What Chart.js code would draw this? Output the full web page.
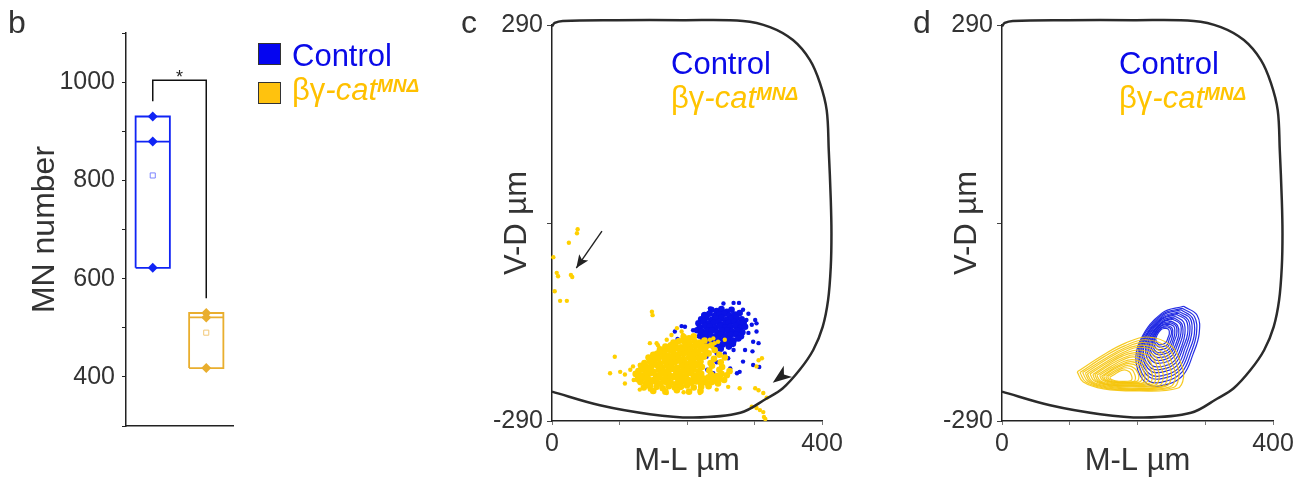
<!DOCTYPE html>
<html>
<head>
<meta charset="utf-8">
<script src="https://cdn.jsdelivr.net/npm/chart.js@4.4.1/dist/chart.umd.min.js"></script>
<style>
  body { margin: 0; width: 1299px; height: 481px; background: #fff; position: relative; overflow: hidden;
         font-family: "Liberation Sans", Arial, sans-serif; }
  canvas { position: absolute; top: 0; }
  .t { position: absolute; white-space: nowrap; line-height: 1; }
  .sw { position: absolute; width: 23px; height: 22px; box-sizing: border-box; border: 1.5px solid #333; }
  .sup { font-size: 19px; font-weight: bold; font-style: italic; vertical-align: 8px; line-height: 0; }
  .blue { color: #0a0ae8; }
  .gold { color: #ffc400; }
</style>
</head>
<body>
<canvas id="chartB" width="450" height="481" style="left:0"></canvas>
<canvas id="chartC" width="450" height="481" style="left:440px"></canvas>
<canvas id="chartD" width="409" height="481" style="left:890px"></canvas>

<!-- panel letters -->
<div class="t" style="left:8px;top:6px;font-size:32px;color:#333">b</div>
<div class="t" style="left:461px;top:6px;font-size:32px;color:#333">c</div>
<div class="t" style="left:913px;top:6px;font-size:32px;color:#333">d</div>

<!-- legend, panel b -->
<div class="sw" style="left:258px;top:43px;background:#0505f0"></div>
<div class="sw" style="left:258px;top:82px;background:#ffc20e"></div>
<div class="t blue" style="left:292px;top:40px;font-size:31px">Control</div>
<div class="t" style="left:292px;top:74px;font-size:31px;color:#ffc000">βγ<i>-cat</i><span class="sup">MNΔ</span></div>
<div class="t" style="left:176px;top:68px;font-size:18px;color:#222">*</div>

<!-- legend, panels c and d -->
<div class="t blue" style="left:671px;top:48px;font-size:31px">Control</div>
<div class="t gold" style="left:671px;top:82px;font-size:31px">βγ<i>-cat</i><span class="sup">MNΔ</span></div>
<div class="t blue" style="left:1119px;top:48px;font-size:31px">Control</div>
<div class="t gold" style="left:1119px;top:82px;font-size:31px">βγ<i>-cat</i><span class="sup">MNΔ</span></div>

<script>
// ---- MN counts per animal (panel b) ----
const groups = ['Control', 'βγ-cat MNΔ'];
const mnPoints = [[930, 879, 622], [530, 521, 418]];
const boxLow = [622, 418];
const boxHigh = [930, 530];
const boxMedian = [879, 521];
const boxMean = [810, 490];
const mnTicks = [400, 600, 800, 1000];

// significance bracket between the two groups
const bracketFeet = [961, 560];
const bracketTop = 1004;

// ---- MN cell positions in the hemicord (panel c), [M-L, V-D] in µm ----
// dense centre of each pool
const coreControl = [
  [236,-127],[244,-129],[251,-126],[259,-130],[266,-127],
  [226,-135],[233,-133],[241,-136],[248,-134],[256,-133],[263,-136],[271,-134],[278,-132],
  [221,-141],[228,-139],[236,-142],[243,-140],[251,-139],[258,-142],[266,-140],[273,-139],[281,-141],
  [217,-147],[225,-145],[232,-148],[240,-146],[247,-145],[255,-148],[262,-146],[270,-145],[277,-147],[284,-146],
  [219,-153],[227,-151],[234,-152],[242,-154],[249,-151],[257,-153],[264,-152],[272,-151],[279,-154],[286,-152],
  [215,-157],[222,-159],[230,-158],[237,-157],[245,-160],[252,-158],[260,-157],[267,-159],[275,-158],[282,-160],
  [220,-165],[228,-163],[235,-164],[243,-166],[250,-163],[258,-165],[265,-164],[273,-163],[280,-166],
  [224,-169],[231,-171],[239,-170],[246,-169],[254,-171],[261,-170],[269,-172],[276,-169],
  [230,-177],[238,-175],[245,-176],[253,-178],[260,-175],[268,-177],
  [241,-182],[250,-184],[262,-181]
];
// scattered cells around it
const spreadControl = [
  [254,-118],[269,-117],[277,-117],[291,-133],[301,-142],[303,-147],[296,-149],[303,-159],
  [298,-174],[306,-176],[297,-188],[286,-186],[283,-203],[298,-208],[307,-211],[274,-220],
  [278,-218],[234,-219],[230,-215],[244,-204],[261,-198],[264,-213],[182,-159],[192,-151],
  [197,-152],[186,-170],[199,-171],[209,-157],[219,-152],[217,-166],[224,-183],[229,-196],
  [219,-203],[244,-191],[239,-220],[204,-210],[249,-183],[269,-186],[256,-191],[266,-176],
  [234,-125],[224,-135],[283,-127],[288,-142],[291,-161]
];

const coreCat = [
  [195,-167],[203,-169],[210,-166],
  [180,-175],[188,-173],[196,-174],[203,-176],[211,-173],[219,-175],[226,-172],
  [168,-181],[176,-179],[183,-180],[191,-182],[198,-179],[206,-181],[213,-180],[221,-178],[228,-181],[236,-179],
  [160,-185],[167,-187],[175,-186],[182,-184],[190,-187],[197,-185],[205,-186],[212,-188],[220,-185],[227,-187],[241,-186],
  [150,-193],[157,-191],[165,-192],[172,-194],[180,-191],[187,-193],[195,-192],[202,-190],[210,-193],[217,-192],[224,-194],[232,-191],[248,-193],
  [143,-197],[150,-199],[158,-198],[165,-196],[173,-199],[180,-197],[188,-198],[195,-200],[203,-197],[210,-199],[218,-198],[225,-196],[240,-199],[256,-197],
  [137,-205],[145,-203],[152,-204],[160,-206],[167,-203],[175,-205],[182,-204],[190,-202],[197,-205],[205,-204],[212,-206],[220,-203],[235,-205],[250,-204],
  [132,-209],[140,-211],[147,-210],[155,-208],[162,-211],[170,-209],[177,-210],[185,-212],[192,-209],[200,-211],[207,-210],[215,-208],[222,-211],[237,-209],[252,-211],
  [128,-217],[135,-215],[143,-216],[150,-218],[158,-215],[165,-217],[173,-216],[180,-214],[188,-217],[195,-216],[203,-218],[210,-215],[218,-217],[233,-216],[248,-215],[263,-217],
  [124,-221],[131,-223],[139,-222],[146,-220],[154,-223],[161,-221],[169,-222],[176,-224],[184,-221],[191,-223],[199,-222],[206,-220],[214,-223],[221,-221],[236,-222],[244,-224],[251,-221],[259,-223],
  [127,-229],[135,-227],[142,-228],[150,-230],[157,-227],[165,-229],[172,-228],[180,-226],[187,-229],[195,-228],[202,-230],[210,-227],[217,-229],[225,-228],[232,-226],[240,-229],[248,-228],[255,-230],
  [131,-233],[139,-235],[146,-234],[154,-232],[161,-235],[169,-233],[176,-234],[184,-236],[191,-233],[199,-235],[206,-234],[214,-232],[221,-235],[229,-234],[237,-233],[246,-235],
  [136,-241],[145,-239],[155,-240],[164,-242],[173,-239],[182,-241],[191,-240],[200,-238],[210,-241],[221,-240],[232,-239],
  [150,-246],[168,-247],[185,-245],[203,-247],[220,-246]
];
const spreadCat = [
  [38,-9],[37,-15],[25,-29],[2,-50],[7,-73],[9,-78],[28,-76],[30,-79],[4,-100],[12,-114],[22,-114],
  [148,-130],[149,-135],
  [93,-196],[86,-220],[101,-218],[108,-222],[116,-215],[108,-235],[121,-230],[120,-210],[130,-208],
  [155,-176],[145,-176],[157,-179],[153,-191],[185,-154],[194,-164],[192,-159],[177,-164],[170,-171],
  [130,-244],[145,-244],[170,-249],[195,-248],[219,-249],[244,-244],[261,-240],[278,-242],
  [234,-171],[241,-176],[246,-174],[256,-171],[239,-169],
  [306,-201],[311,-198],[303,-210],[301,-242],[306,-245],[313,-249],[318,-256],
  [296,-269],[303,-271],[308,-274],[313,-277],[314,-284],[316,-287],[313,-296]
];

// hemicord outline (grey-matter boundary), same template for c and d
const outline = [
  [0,-247],[71,-267],[145,-280],[209,-285],[279,-278],[318,-257],[342,-242],[367,-215],
  [387,-186],[401,-152],[409,-113],[413,-64],[414,-15],[413,34],[410,107],[407,165],
  [397,205],[382,239],[357,268],[323,287],[283,296],[194,297],[96,297],[16,296],[4,293],[0,288]
];

// ---- density contours (panel d), outer to inner ----
const contoursControl = [
  [[268,-122],[288,-135],[291,-162],[282,-192],[268,-222],[245,-236],[215,-236],[198,-205],[205,-170],[236,-132]],
  [[266,-125],[284,-137],[287,-162],[279,-190],[266,-218],[244,-231],[216,-231],[201,-202],[207,-169],[236,-134]],
  [[264,-127],[281,-139],[284,-162],[276,-188],[264,-214],[244,-226],[218,-226],[203,-199],[209,-169],[236,-136]],
  [[262,-130],[278,-140],[280,-162],[273,-186],[262,-211],[243,-222],[219,-222],[205,-197],[211,-168],[236,-138]],
  [[260,-132],[275,-142],[277,-162],[270,-184],[260,-207],[242,-217],[220,-217],[207,-194],[212,-168],[236,-140]],
  [[258,-134],[272,-143],[274,-162],[267,-183],[258,-203],[242,-213],[221,-213],[209,-192],[214,-168],[236,-141]],
  [[256,-137],[268,-145],[270,-162],[265,-181],[256,-200],[241,-209],[222,-209],[212,-189],[216,-167],[236,-143]],
  [[254,-139],[265,-147],[267,-162],[262,-179],[254,-196],[241,-204],[224,-204],[214,-187],[218,-167],[236,-145]],
  [[252,-141],[263,-148],[264,-162],[259,-178],[252,-193],[240,-200],[225,-200],[216,-184],[219,-166],[236,-146]],
  [[250,-144],[259,-150],[261,-162],[257,-176],[250,-190],[240,-196],[226,-196],[218,-182],[221,-166],[235,-148]],
  [[249,-146],[257,-151],[258,-162],[254,-174],[249,-187],[239,-192],[227,-192],[220,-180],[223,-165],[235,-150]],
  [[247,-148],[254,-152],[255,-162],[252,-173],[247,-184],[239,-189],[228,-189],[222,-177],[224,-165],[235,-151]],
  [[245,-150],[251,-154],[252,-162],[250,-171],[245,-181],[238,-185],[229,-185],[224,-175],[226,-164],[235,-153]],
  [[244,-152],[249,-155],[250,-162],[247,-170],[244,-178],[238,-181],[230,-181],[225,-173],[227,-164],[235,-154]],
  [[242,-154],[246,-156],[247,-162],[245,-168],[242,-175],[237,-178],[231,-178],[227,-171],[229,-164],[235,-156]]
];
const contoursCat = [
  [[111,-218],[150,-193],[182,-176],[215,-167],[249,-179],[264,-205],[268,-226],[259,-242],[200,-246],[150,-243],[120,-233]],
  [[115,-219],[152,-195],[181,-180],[212,-171],[244,-182],[258,-207],[261,-226],[253,-241],[198,-245],[152,-242],[124,-233]],
  [[119,-219],[153,-198],[181,-183],[209,-175],[239,-185],[252,-208],[256,-226],[248,-240],[196,-244],[153,-241],[127,-232]],
  [[123,-220],[154,-200],[180,-186],[207,-179],[234,-188],[247,-209],[250,-226],[242,-239],[195,-243],[154,-240],[130,-232]],
  [[126,-221],[156,-202],[180,-189],[204,-182],[230,-191],[241,-211],[244,-227],[237,-239],[193,-242],[156,-239],[133,-232]],
  [[130,-221],[157,-204],[179,-192],[202,-186],[225,-194],[235,-212],[238,-227],[232,-238],[191,-240],[157,-238],[136,-231]],
  [[134,-222],[158,-206],[178,-195],[199,-190],[221,-197],[230,-214],[232,-227],[227,-237],[190,-239],[158,-237],[139,-231]],
  [[137,-222],[159,-208],[178,-198],[197,-193],[216,-200],[224,-215],[227,-227],[222,-236],[188,-238],[159,-237],[142,-231]],
  [[140,-223],[161,-210],[177,-201],[194,-196],[212,-203],[220,-216],[222,-227],[217,-235],[187,-237],[161,-236],[145,-231]],
  [[144,-223],[162,-212],[177,-204],[192,-200],[207,-205],[214,-217],[216,-227],[212,-234],[185,-236],[162,-235],[148,-230]],
  [[147,-224],[163,-214],[176,-207],[190,-203],[204,-208],[210,-219],[211,-227],[208,-234],[183,-235],[163,-234],[151,-230]],
  [[150,-224],[164,-215],[176,-209],[187,-206],[200,-210],[205,-220],[207,-227],[203,-233],[182,-234],[164,-233],[153,-230]],
  [[153,-225],[165,-217],[175,-212],[185,-209],[196,-213],[201,-221],[202,-227],[199,-232],[181,-234],[165,-233],[156,-230]],
  [[156,-225],[166,-219],[175,-214],[183,-212],[192,-215],[196,-222],[197,-227],[195,-232],[179,-233],[166,-232],[158,-229]],
  [[159,-226],[167,-221],[174,-217],[181,-215],[188,-218],[191,-223],[192,-228],[190,-231],[178,-232],[167,-231],[161,-229]]
];

// arrow pointing at the ectopic cells, and arrowhead at the lateral cells
const arrowFrom = [74, -12];
const arrowTo = [36, -66];
const headTip = [327, -234];
const headBack = [350, -217];

Chart.defaults.font.family = '"Liberation Sans", Arial, sans-serif';
Chart.defaults.color = '#333';
Chart.defaults.animation = false;

const BLUE = '#0a12e6';
const GOLD = '#ffd000';
const xy = p => ({ x: p[0], y: p[1] });

// ---------------- panel b ----------------
const boxColors = ['#1024f5', '#e9ae2e'];
const meanColors = ['#7c84ff', '#f2c878'];
const halfW = 0.32;
const bDatasets = [];
groups.forEach((g, i) => {
  const c = i + 0.5;
  bDatasets.push({
    label: g + ' box', showLine: true, pointRadius: 0, borderColor: boxColors[i], borderWidth: 1.8,
    data: [[c - halfW, boxLow[i]], [c + halfW, boxLow[i]], [c + halfW, boxHigh[i]],
           [c - halfW, boxHigh[i]], [c - halfW, boxLow[i]]].map(xy)
  });
  bDatasets.push({
    label: g + ' median', showLine: true, pointRadius: 0, borderColor: boxColors[i], borderWidth: 1.8,
    data: [[c - halfW, boxMedian[i]], [c + halfW, boxMedian[i]]].map(xy)
  });
  bDatasets.push({
    label: g, pointStyle: 'rectRot', pointRadius: 5, borderWidth: 0,
    backgroundColor: boxColors[i], data: mnPoints[i].map(v => ({ x: c, y: v }))
  });
  bDatasets.push({
    label: g + ' mean', pointStyle: 'rect', pointRadius: 3.6, borderWidth: 1,
    backgroundColor: '#fff', borderColor: meanColors[i], data: [{ x: c, y: boxMean[i] }]
  });
});
bDatasets.push({
  label: 'p < 0.05', showLine: true, pointRadius: 0, borderColor: '#111', borderWidth: 1.5, clip: false,
  data: [[0.5, bracketFeet[0]], [0.5, bracketTop], [1.5, bracketTop], [1.5, bracketFeet[1]]].map(xy)
});

new Chart(document.getElementById('chartB'), {
  type: 'scatter',
  data: { datasets: bDatasets },
  options: {
    responsive: false,
    layout: { padding: { left: 0, right: 217, top: 33, bottom: 0 } },
    plugins: { legend: { display: false }, tooltip: { enabled: false } },
    scales: {
      x: {
        type: 'linear', min: 0, max: 2,
        afterFit: s => { s.height = 55; },
        ticks: { display: false },
        grid: { display: false },
        border: { display: true, color: '#222', width: 1.5 }
      },
      y: {
        type: 'linear', min: 300, max: 1100,
        afterFit: s => { s.width = 126; },
        ticks: { stepSize: 100, padding: 7, color: '#333', font: { size: 25 },
                 callback: v => mnTicks.includes(v) ? v : '' },
        grid: { drawOnChartArea: false, drawTicks: true, tickLength: 4, color: '#222' },
        border: { display: true, color: '#222', width: 1.5 },
        title: { display: true, text: 'MN number', color: '#333', font: { size: 32 },
                 padding: { top: 26, bottom: 0 } }
      }
    }
  }
});

// ---------------- panels c and d ----------------
function sectionScales() {
  return {
    x: {
      type: 'linear', min: 0, max: 400,
      afterFit: s => { s.height = 60; },
      ticks: { stepSize: 100, autoSkip: false, maxRotation: 0, padding: 4, color: '#333', font: { size: 25 },
               callback: v => (v === 0 || v === 400) ? v : '' },
      grid: { drawOnChartArea: false, drawTicks: true, tickLength: 4, color: '#777' },
      border: { display: true, color: '#222', width: 1.5 },
      title: { display: true, text: 'M-L µm', color: '#333', font: { size: 31 },
               padding: { top: 0, bottom: 1 } }
    },
    y: {
      type: 'linear', min: -290, max: 290,
      afterFit: s => { s.width = 112; },
      ticks: { stepSize: 290, padding: 4, color: '#333', font: { size: 25 },
               callback: v => v === 0 ? '' : v },
      grid: { drawOnChartArea: false, drawTicks: true, tickLength: 5, color: '#444' },
      border: { display: true, color: '#222', width: 1.5 },
      title: { display: true, text: 'V-D µm', color: '#333', font: { size: 31 },
               padding: { top: 59, bottom: 0 } }
    }
  };
}

const outlineSet = {
  label: 'outline', showLine: true, pointRadius: 0, tension: 0.35, clip: false,
  borderColor: '#2b2b2b', borderWidth: 2.5, data: outline.map(xy)
};

function drawHead(ctx, tip, back, len, half, notch) {
  const dx = tip.x - back.x, dy = tip.y - back.y;
  const d = Math.hypot(dx, dy);
  const ux = dx / d, uy = dy / d;
  const bx = tip.x - ux * len, by = tip.y - uy * len;
  ctx.beginPath();
  ctx.moveTo(tip.x, tip.y);
  ctx.lineTo(bx - uy * half, by + ux * half);
  ctx.lineTo(tip.x - ux * (len - notch), tip.y - uy * (len - notch));
  ctx.lineTo(bx + uy * half, by - ux * half);
  ctx.closePath();
  ctx.fill();
}

const arrowPlugin = {
  id: 'arrows',
  afterDatasetsDraw(chart) {
    const { ctx, scales: { x, y } } = chart;
    const px = p => ({ x: x.getPixelForValue(p[0]), y: y.getPixelForValue(p[1]) });
    const a = px(arrowFrom), b = px(arrowTo);
    ctx.save();
    ctx.strokeStyle = '#222';
    ctx.fillStyle = '#222';
    ctx.lineWidth = 1.4;
    ctx.beginPath();
    ctx.moveTo(a.x, a.y);
    ctx.lineTo(b.x, b.y);
    ctx.stroke();
    drawHead(ctx, b, a, 13, 5.5, 3);
    drawHead(ctx, px(headTip), px(headBack), 19, 7, 5);
    ctx.restore();
  }
};

const cells = (label, pts, r, color) => ({
  label, data: pts.map(xy), pointRadius: r, borderWidth: 0, backgroundColor: color, clip: false
});

new Chart(document.getElementById('chartC'), {
  type: 'scatter',
  data: {
    datasets: [
      outlineSet,
      cells('βγ-cat MNΔ', spreadCat, 2.2, GOLD),
      cells('βγ-cat MNΔ core', coreCat, 3.3, GOLD),
      cells('Control', spreadControl, 2.2, BLUE),
      cells('Control core', coreControl, 3.3, BLUE)
    ]
  },
  options: {
    responsive: false,
    layout: { padding: { left: 0, right: 68, top: 25, bottom: 0 } },
    plugins: { legend: { display: false }, tooltip: { enabled: false } },
    scales: sectionScales()
  },
  plugins: [arrowPlugin]
});

const ringSet = (ring, color) => ({
  showLine: true, pointRadius: 0, tension: 0.4, borderWidth: 1.2, borderColor: color,
  data: ring.concat([ring[0]]).map(xy)
});

new Chart(document.getElementById('chartD'), {
  type: 'scatter',
  data: {
    datasets: [
      { ...outlineSet },
      ...contoursCat.map(r => ringSet(r, 'rgba(245,196,10,0.9)')),
      ...contoursControl.map(r => ringSet(r, 'rgba(25,35,225,0.95)'))
    ]
  },
  options: {
    responsive: false,
    layout: { padding: { left: 0, right: 26, top: 25, bottom: 0 } },
    plugins: { legend: { display: false }, tooltip: { enabled: false } },
    scales: sectionScales()
  }
});
</script>
</body>
</html>
